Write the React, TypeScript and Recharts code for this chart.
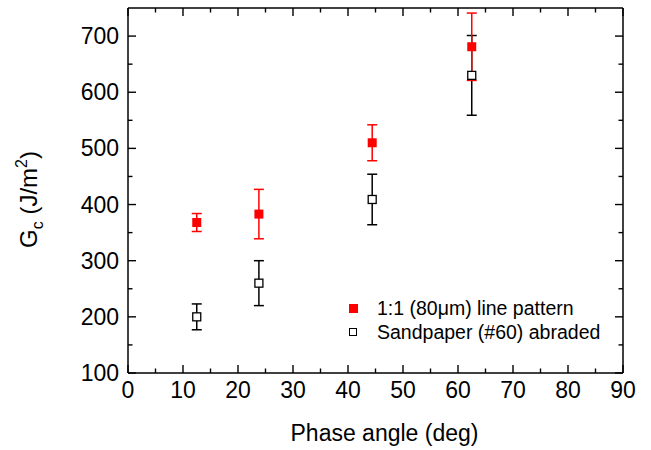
import { ErrorBar, Scatter, ScatterChart, XAxis, YAxis } from 'recharts';

const phaseAngle = [12.5, 23.8, 44.4, 62.5];
const gcLinePattern = [368, 383, 510, 681];
const errLinePattern = [16, 44, 32, 60];
const gcSandpaper = [200, 260, 409, 630];
const errSandpaper = [23, 40, 45, 71];

const xTicks = [0, 5, 10, 15, 20, 25, 30, 35, 40, 45, 50, 55, 60, 65, 70, 75, 80, 85, 90];
const yTicks = [100, 150, 200, 250, 300, 350, 400, 450, 500, 550, 600, 650, 700];

const FONT = '"Liberation Sans", Arial, sans-serif';
const MAJOR = 8;
const MINOR = 4.5;

const series = [
  {
    name: '1:1 (80\u03bcm) line pattern',
    color: '#ff0000',
    filled: true,
    data: phaseAngle.map((x, i) => ({ x, y: gcLinePattern[i], err: errLinePattern[i] })),
  },
  {
    name: 'Sandpaper (#60) abraded',
    color: '#000000',
    filled: false,
    data: phaseAngle.map((x, i) => ({ x, y: gcSandpaper[i], err: errSandpaper[i] })),
  },
];

const BottomTick = ({ x, y, payload }: any) => {
  const major = payload.value % 10 === 0;
  return (
    <g>
      <line x1={x} x2={x} y1={y} y2={y - (major ? MAJOR : MINOR)} stroke="#000" strokeWidth={1.4} />
      {major && (
        <text x={x} y={y + 25} textAnchor="middle" fontSize={23} fontFamily={FONT} fill="#000">
          {payload.value}
        </text>
      )}
    </g>
  );
};

const TopTick = ({ x, y, payload }: any) => {
  const major = payload.value % 10 === 0;
  return <line x1={x} x2={x} y1={y} y2={y + (major ? MAJOR : MINOR)} stroke="#000" strokeWidth={1.4} />;
};

const LeftTick = ({ x, y, payload }: any) => {
  const major = payload.value % 100 === 0;
  return (
    <g>
      <line x1={x} x2={x + (major ? MAJOR : MINOR)} y1={y} y2={y} stroke="#000" strokeWidth={1.4} />
      {major && (
        <text x={x - 9} y={y + 8} textAnchor="end" fontSize={23} fontFamily={FONT} fill="#000">
          {payload.value}
        </text>
      )}
    </g>
  );
};

const RightTick = ({ x, y, payload }: any) => {
  const major = payload.value % 100 === 0;
  return <line x1={x} x2={x - (major ? MAJOR : MINOR)} y1={y} y2={y} stroke="#000" strokeWidth={1.4} />;
};

const YTitle = ({ viewBox }: any) => {
  const cx = 37;
  const cy = viewBox.y + viewBox.height / 2 + 9;
  return (
    <text
      x={cx}
      y={cy}
      transform={`rotate(-90, ${cx}, ${cy})`}
      textAnchor="middle"
      fontSize={24}
      fontFamily={FONT}
      fill="#000"
    >
      G<tspan dy={6} fontSize={16}>c</tspan>
      <tspan dy={-6}> (J/m</tspan>
      <tspan dy={-10} fontSize={16}>2</tspan>
      <tspan dy={10}>)</tspan>
    </text>
  );
};

const FilledSquare = ({ cx, cy }: any) => <rect x={cx - 4.5} y={cy - 4.5} width={9} height={9} fill="#ff0000" />;
const OpenSquare = ({ cx, cy }: any) => (
  <rect x={cx - 4} y={cy - 4} width={8} height={8} fill="#fff" stroke="#000" strokeWidth={1.3} />
);
const NoShape = () => <g />;

export default function App() {
  const ordered = [...series].reverse();
  return (
    <div style={{ position: 'absolute', left: 0, top: 0, width: 651, height: 450, background: '#fff' }}>
      <ScatterChart width={651} height={450} margin={{ top: 7, right: 27, bottom: 0, left: 0 }}>
        <XAxis
          dataKey="x"
          type="number"
          domain={[0, 90]}
          ticks={xTicks}
          height={77}
          tickSize={0}
          tickMargin={0}
          tickLine={false}
          tick={BottomTick}
          axisLine={{ stroke: '#000', strokeWidth: 1.5 }}
          label={{ value: 'Phase angle (deg)', position: 'insideBottom', offset: 9, dx: 9, fontSize: 23, fontFamily: FONT, fill: '#000' }}
        />
        <XAxis
          xAxisId="top"
          dataKey="x"
          orientation="top"
          type="number"
          domain={[0, 90]}
          ticks={xTicks}
          height={1}
          tickSize={0}
          tickMargin={0}
          tickLine={false}
          tick={TopTick}
          axisLine={{ stroke: '#000', strokeWidth: 1.5 }}
        />
        <YAxis
          dataKey="y"
          type="number"
          domain={[100, 750]}
          ticks={yTicks}
          width={128}
          tickSize={0}
          tickMargin={0}
          tickLine={false}
          tick={LeftTick}
          axisLine={{ stroke: '#000', strokeWidth: 1.5 }}
          label={{ content: YTitle }}
        />
        <YAxis
          yAxisId="right"
          dataKey="y"
          orientation="right"
          type="number"
          domain={[100, 750]}
          ticks={yTicks}
          width={1}
          tickSize={0}
          tickMargin={0}
          tickLine={false}
          tick={RightTick}
          axisLine={{ stroke: '#000', strokeWidth: 1.5 }}
        />
        <Scatter
          xAxisId="top"
          yAxisId="right"
          data={series[1].data}
          shape={NoShape}
          legendType="none"
          isAnimationActive={false}
        />
        {ordered.map((s) => (
          <Scatter
            key={s.name}
            name={s.name}
            data={s.data}
            isAnimationActive={false}
            shape={s.filled ? FilledSquare : OpenSquare}
          >
            <ErrorBar dataKey="err" direction="y" width={5} stroke={s.color} strokeWidth={1.5} isAnimationActive={false} />
          </Scatter>
        ))}
      </ScatterChart>
      <div style={{ position: 'absolute', left: 345, top: 296, fontFamily: FONT, fontSize: 19.5, color: '#000' }}>
        {series.map((s) => (
          <div key={s.name} style={{ display: 'flex', alignItems: 'center', height: 24 }}>
            <div style={{ width: 16, display: 'flex', justifyContent: 'center' }}>
              <div
                style={{
                  width: s.filled ? 9 : 6,
                  height: s.filled ? 9 : 6,
                  background: s.filled ? s.color : '#fff',
                  border: s.filled ? 'none' : '1px solid #000',
                }}
              />
            </div>
            <span style={{ marginLeft: 16, whiteSpace: 'nowrap' }}>{s.name}</span>
          </div>
        ))}
      </div>
    </div>
  );
}
